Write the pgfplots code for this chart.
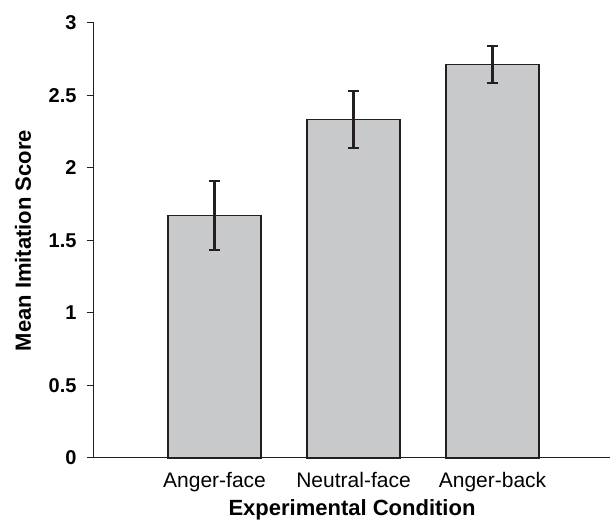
\documentclass[border=0pt]{standalone}
\usepackage{pgfplots}
\pgfplotsset{compat=1.18}
\usepackage{fontspec}
\setmainfont{Liberation Sans}
\definecolor{barfill}{HTML}{C8C9CB}
\definecolor{ink}{HTML}{231F20}
\begin{document}
\begin{tikzpicture}
\begin{axis}[
  name=ax,
  scale only axis,
  width=516pt, height=435pt,
  xmin=-0.867, xmax=2.845,
  ymin=0, ymax=3,
  axis x line=bottom, axis y line=left,
  axis line style={-, ink, line width=1pt},
  ytick={0,0.5,1,1.5,2,2.5,3},
  xtick={0,1,2},
  xticklabels={Anger-face,Neutral-face,Anger-back},
  xtick style={draw=none},
  ytick style={ink, line width=1pt},
  tick align=outside,
  major tick length=7pt,
  /pgf/number format/assume math mode=true,
  yticklabel style={font=\fontsize{20}{24}\selectfont\bfseries, anchor=east, xshift=-7pt},
  xticklabel style={font=\fontsize{21}{25}\selectfont, anchor=north, yshift=-4pt},
  xlabel={Experimental Condition},
  ylabel={Mean Imitation Score},
  xlabel style={font=\fontsize{22}{26}\selectfont\bfseries, at={(axis description cs:0.5,0)}, anchor=center, yshift=-52pt},
  ylabel style={font=\fontsize{22}{26}\selectfont\bfseries, at={(axis description cs:-0.1376,0.5)}, anchor=center},
  ybar, bar width=93pt,
  clip=false,
]
\addplot[fill=barfill, draw=ink, line width=1.2pt,
  error bars/.cd, y dir=both, y explicit,
  error bar style={ink, line width=2.2pt},
  error mark options={rotate=90, mark size=5.5pt, line width=2.2pt, ink}]
  coordinates {
    (0,1.67) +- (0,0.238)
    (1,2.335) +- (0,0.197)
    (2,2.712) +- (0,0.128)
  };
\end{axis}
\pgfresetboundingbox
\path[use as bounding box] ([xshift=-94pt,yshift=-63pt]ax.south west) rectangle ([xshift=2pt,yshift=23pt]ax.north east);
\end{tikzpicture}
\end{document}
